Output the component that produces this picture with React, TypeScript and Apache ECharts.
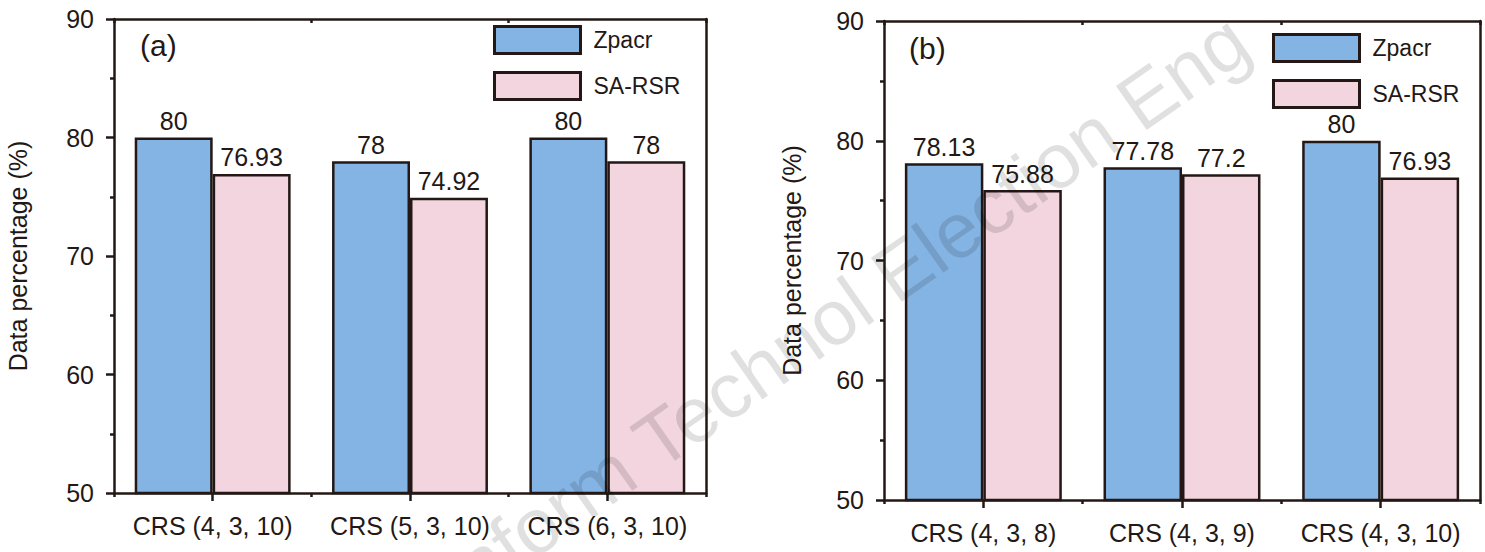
import React, { useEffect, useRef } from "react";
import * as echarts from "echarts";

const categoriesA = ["CRS (4, 3, 10)", "CRS (5, 3, 10)", "CRS (6, 3, 10)"];
const zpacrA = [80, 78, 80];
const sarsrA = [76.93, 74.92, 78];

const categoriesB = ["CRS (4, 3, 8)", "CRS (4, 3, 9)", "CRS (4, 3, 10)"];
const zpacrB = [78.13, 77.78, 80];
const sarsrB = [75.88, 77.2, 76.93];

const seriesNames = ["Zpacr", "SA-RSR"];
const yMin = 50;
const yMax = 90;
const yStep = 10;
const yAxisTitle = "Data percentage (%)";
const panelTags = ["(a)", "(b)"];
const watermarkText = "Inform Technol Election Eng";

const FONT = "'Liberation Sans', Arial, sans-serif";
const INK = "#231815";
const BLUE = "#84b4e3";
const PINK = "#f2d5df";

export default function App() {
  const ref = useRef<HTMLDivElement>(null);

  useEffect(() => {
    if (!ref.current) return;
    const chart = echarts.init(ref.current, null, { renderer: "svg" });

    const grids = [
      { left: 114, right: 1485 - 706, top: 19, bottom: 552 - 493 },
      { left: 884, right: 1485 - 1480, top: 21, bottom: 552 - 500 },
    ];
    const cats = [categoriesA, categoriesB];

    const xAxes: any[] = [];
    const yAxes: any[] = [];
    grids.forEach((_, gi) => {
      xAxes.push({
        type: "category",
        gridIndex: gi,
        data: cats[gi],
        position: "bottom",
        axisLine: { show: true, lineStyle: { color: INK, width: 2.5 } },
        axisTick: { show: true, alignWithLabel: true, length: 8, lineStyle: { color: INK, width: 2.5 } },
        axisLabel: { fontSize: 25, color: INK, fontFamily: FONT, margin: 20, interval: 0 },
        splitLine: { show: false },
      });
      xAxes.push({
        type: "category",
        gridIndex: gi,
        data: cats[gi],
        position: "bottom",
        axisLine: { show: false },
        axisTick: { show: true, length: 4, lineStyle: { color: INK, width: 2.5 } },
        axisLabel: { show: false },
        splitLine: { show: false },
      });
      xAxes.push({
        type: "category",
        gridIndex: gi,
        data: cats[gi],
        position: "top",
        axisLine: { show: true, lineStyle: { color: INK, width: 2.5 } },
        axisTick: { show: true, inside: true, length: 4, lineStyle: { color: INK, width: 2.5 } },
        axisLabel: { show: false },
        splitLine: { show: false },
      });
      yAxes.push({
        type: "value",
        gridIndex: gi,
        min: yMin,
        max: yMax,
        interval: yStep,
        position: "left",
        name: yAxisTitle,
        nameLocation: "middle",
        nameGap: gi === 0 ? 84 : 80,
        nameTextStyle: { fontSize: 25, color: INK, fontFamily: FONT },
        axisLine: { show: true, lineStyle: { color: INK, width: 2.5 } },
        axisTick: { show: true, length: 8, lineStyle: { color: INK, width: 2.5 } },
        minorTick: { show: true, splitNumber: 2, length: 4, lineStyle: { color: INK, width: 2.5 } },
        axisLabel: { fontSize: 25, color: INK, fontFamily: FONT, margin: 20 },
        splitLine: { show: false },
        minorSplitLine: { show: false },
      });
      yAxes.push({
        type: "value",
        gridIndex: gi,
        min: yMin,
        max: yMax,
        interval: yStep,
        position: "right",
        axisLine: { show: true, lineStyle: { color: INK, width: 2.5 } },
        axisTick: { show: false },
        axisLabel: { show: false },
        splitLine: { show: false },
      });
    });

    const labelCfg = {
      show: true,
      position: "top",
      distance: 4,
      fontSize: 25,
      color: INK,
      fontFamily: FONT,
    };
    const mkSeries = (name: string, data: number[], color: string, gi: number) => ({
      type: "bar",
      name,
      data,
      xAxisIndex: gi * 3,
      yAxisIndex: gi * 2,
      barGap: "0%",
      barCategoryGap: "21%",
      itemStyle: { color, borderColor: INK, borderWidth: 2.5 },
      label: labelCfg,
    });

    const series = [
      mkSeries(seriesNames[0], zpacrA, BLUE, 0),
      mkSeries(seriesNames[1], sarsrA, PINK, 0),
      mkSeries(seriesNames[0], zpacrB, BLUE, 1),
      mkSeries(seriesNames[1], sarsrB, PINK, 1),
    ];

    const legendBase = {
      orient: "vertical",
      data: seriesNames,
      padding: 0,
      itemWidth: 86,
      itemHeight: 27,
      itemGap: 16,
      icon: "rect",
      selectedMode: false,
      textStyle: { fontSize: 23, color: INK, fontFamily: FONT, padding: [0, 0, 0, 8] },
      itemStyle: { borderColor: INK, borderWidth: 3 },
    };

    chart.setOption({
      animation: false,
      backgroundColor: "#ffffff",
      grid: grids.map((g) => ({ ...g, show: false, containLabel: false })),
      xAxis: xAxes,
      yAxis: yAxes,
      legend: [
        { ...legendBase, left: 493, top: 25 },
        { ...legendBase, left: 1272, top: 33 },
      ],
      series,
      graphic: [
        {
          type: "text",
          left: 140,
          top: 30,
          style: { text: panelTags[0], fontSize: 30, fill: INK, fontFamily: FONT },
        },
        {
          type: "text",
          left: 909,
          top: 33,
          style: { text: panelTags[1], fontSize: 30, fill: INK, fontFamily: FONT },
        },
        {
          type: "text",
          x: 1262,
          y: 64,
          rotation: (35 * Math.PI) / 180,
          z: 100,
          silent: true,
          style: {
            text: watermarkText,
            fontSize: 78,
            fontFamily: FONT,
            fill: "rgba(0,0,0,0.12)",
            align: "right",
            verticalAlign: "bottom",
          },
        },
      ],
    });

    return () => chart.dispose();
  }, []);

  return (
    <div
      ref={ref}
      style={{ position: "fixed", left: 0, top: 0, width: 1485, height: 552, background: "#fff" }}
    />
  );
}
